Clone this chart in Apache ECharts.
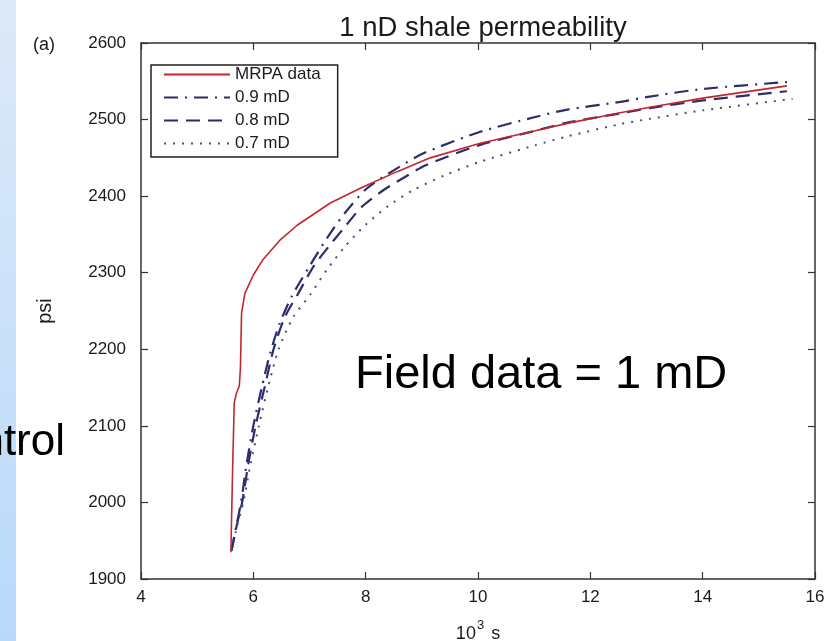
<!DOCTYPE html>
<html>
<head>
<meta charset="utf-8">
<script src="https://cdn.jsdelivr.net/npm/echarts@6/dist/echarts.min.js"></script>
<style>
html,body{margin:0;padding:0;background:#fff;}
#chart{width:836px;height:641px;}
</style>
</head>
<body>
<div id="chart"></div>
<script>
// ---- data (x in 10^3 s, y in psi) ----
const xTicks = [4, 6, 8, 10, 12, 14, 16];
const yTicks = [1900, 2000, 2100, 2200, 2300, 2400, 2500, 2600];
const seriesNames = ['MRPA data', '0.9 mD', '0.8 mD', '0.7 mD'];

const mrpaX = [5.60, 5.63, 5.66, 5.70, 5.75, 5.77, 5.78, 5.79, 5.85, 6.00, 6.17, 6.48, 6.78, 7.37, 7.95, 8.56, 9.15, 10.04, 11.00, 11.59, 12.53, 13.06, 14.00, 15.50];
const mrpaY = [1935, 2040, 2130, 2143, 2152, 2175, 2210, 2247, 2273, 2297, 2317, 2343, 2362, 2391, 2412, 2432, 2450, 2469, 2485, 2495, 2509, 2516, 2528, 2544];

const k09X = [5.61, 5.70, 5.78, 5.88, 6.00, 6.15, 6.30, 6.47, 6.69, 6.98, 7.31, 7.63, 8.02, 8.55, 9.03, 10.04, 11.00, 11.59, 12.53, 13.06, 14.00, 15.50];
const k09Y = [1937, 1970, 2000, 2050, 2100, 2150, 2195, 2234, 2270, 2306, 2345, 2378, 2410, 2436, 2456, 2484, 2503, 2513, 2523, 2530, 2540, 2549];

const k08X = [5.61, 5.72, 5.80, 5.91, 6.04, 6.20, 6.36, 6.56, 6.80, 7.07, 7.34, 7.63, 7.93, 8.32, 8.70, 9.06, 10.04, 11.00, 11.59, 12.53, 13.06, 14.00, 15.50];
const k08Y = [1937, 1975, 2000, 2050, 2100, 2150, 2200, 2242, 2273, 2308, 2334, 2360, 2386, 2408, 2425, 2440, 2467, 2485, 2496, 2508, 2515, 2525, 2537];

const k07X = [5.61, 5.72, 5.82, 5.95, 6.10, 6.26, 6.45, 6.71, 7.01, 7.31, 7.63, 7.99, 8.40, 8.85, 9.40, 10.04, 11.00, 11.59, 12.53, 13.06, 14.00, 15.60];
const k07Y = [1937, 1972, 2000, 2050, 2100, 2150, 2200, 2242, 2271, 2304, 2334, 2362, 2387, 2408, 2427, 2445, 2466, 2478, 2494, 2501, 2512, 2527];

function pairs(xs, ys){ return xs.map((x, i) => [x, ys[i]]); }

const FONT = "'Liberation Sans', Arial, Helvetica, sans-serif";
const AX = '#333';
const NAVY = '#2b2d6c';

const chart = echarts.init(document.getElementById('chart'), null, {renderer: 'canvas'});

const axisCommon = {
  axisLine: {show: true, lineStyle: {color: AX, width: 1.5}},
  axisTick: {show: true, inside: true, length: 7, lineStyle: {color: AX, width: 1.2}},
  splitLine: {show: false}
};
const plain = v => String(v);

chart.setOption({
  backgroundColor: '#ffffff',
  animation: false,
  title: {
    text: '1 nD shale permeability',
    left: 478, top: 9, textAlign: 'center',
    textStyle: {fontFamily: FONT, fontSize: 27.5, fontWeight: 'normal', color: '#1a1a1a'}
  },
  legend: {
    data: seriesNames,
    orient: 'vertical',
    left: 151, top: 65,
    padding: [1, 17, 5, 12],
    itemGap: 6,
    itemWidth: 66, itemHeight: 16,
    itemStyle: {opacity: 0},
    borderColor: '#222', borderWidth: 1.5,
    backgroundColor: '#fff',
    textStyle: {fontFamily: FONT, fontSize: 17, color: '#1a1a1a'}
  },
  grid: {left: 141, right: 21, top: 43, bottom: 62, containLabel: false, outerBoundsMode: 'none'},
  xAxis: [
    Object.assign({
      type: 'value', position: 'bottom', min: xTicks[0], max: xTicks[xTicks.length-1], interval: 2,
      name: '{b|10}{s|3}{b| s}', nameLocation: 'middle', nameGap: 40,
      nameTextStyle: {rich: {
        b: {fontFamily: FONT, fontSize: 18, color: '#1a1a1a', lineHeight: 24, verticalAlign: 'bottom'},
        s: {fontFamily: FONT, fontSize: 13, color: '#1a1a1a', lineHeight: 24, verticalAlign: 'top', padding: [0, 2, 0, 1]}
      }},
      axisLabel: {fontFamily: FONT, fontSize: 17, color: '#1a1a1a', margin: 10, formatter: plain}
    }, axisCommon),
    Object.assign({
      type: 'value', position: 'top', min: xTicks[0], max: xTicks[xTicks.length-1], interval: 2,
      axisLabel: {show: false}
    }, axisCommon)
  ],
  yAxis: [
    Object.assign({
      type: 'value', position: 'left', min: yTicks[0], max: yTicks[yTicks.length-1], interval: 100,
      name: 'psi', nameLocation: 'middle', nameGap: 86, nameRotate: 90,
      nameTextStyle: {fontFamily: FONT, fontSize: 20, color: '#1a1a1a'},
      axisLabel: {fontFamily: FONT, fontSize: 17, color: '#1a1a1a', margin: 15, formatter: plain}
    }, axisCommon),
    Object.assign({
      type: 'value', position: 'right', min: yTicks[0], max: yTicks[yTicks.length-1], interval: 100,
      axisLabel: {show: false}
    }, axisCommon)
  ],
  series: [
    {name: seriesNames[0], type: 'line', data: pairs(mrpaX, mrpaY), symbol: 'none', z: 5,
     lineStyle: {color: '#c3262c', width: 1.6, type: 'solid'}, itemStyle: {color: '#c3262c'}},
    {name: seriesNames[1], type: 'line', data: pairs(k09X, k09Y), symbol: 'none', smooth: 0.25,
     lineStyle: {color: NAVY, width: 2.2, type: [14, 7, 2, 7]}, itemStyle: {color: NAVY}},
    {name: seriesNames[2], type: 'line', data: pairs(k08X, k08Y), symbol: 'none', smooth: 0.25,
     lineStyle: {color: NAVY, width: 2.2, type: [14, 8]}, itemStyle: {color: NAVY}},
    {name: seriesNames[3], type: 'line', data: pairs(k07X, k07Y), symbol: 'none', smooth: 0.25,
     lineStyle: {color: '#4a4c7e', width: 2, type: [2, 7]}, itemStyle: {color: '#4a4c7e'}}
  ],
  graphic: [
    {type: 'rect', left: 0, top: 0, z: -10, silent: true,
     shape: {width: 16, height: 641},
     style: {fill: new echarts.graphic.LinearGradient(0, 0, 0, 1, [
       {offset: 0, color: '#dde9f8'}, {offset: 1, color: '#b9d9fb'}])}},
    {type: 'text', z: 10, silent: true, x: 65, y: 443,
     style: {text: 'ntrol', font: "44px 'Liberation Sans', Arial, sans-serif", fill: '#000', align: 'right', verticalAlign: 'middle'}},
    {type: 'text', z: 10, silent: true, x: 33, y: 45,
     style: {text: '(a)', font: "18px 'Liberation Sans', Arial, sans-serif", fill: '#1a1a1a', align: 'left', verticalAlign: 'middle'}},
    {type: 'text', z: 10, silent: true, x: 355, y: 375,
     style: {text: 'Field data = 1 mD', font: "47px 'Liberation Sans', Arial, sans-serif", fill: '#000', align: 'left', verticalAlign: 'middle'}}
  ]
});
</script>
</body>
</html>
